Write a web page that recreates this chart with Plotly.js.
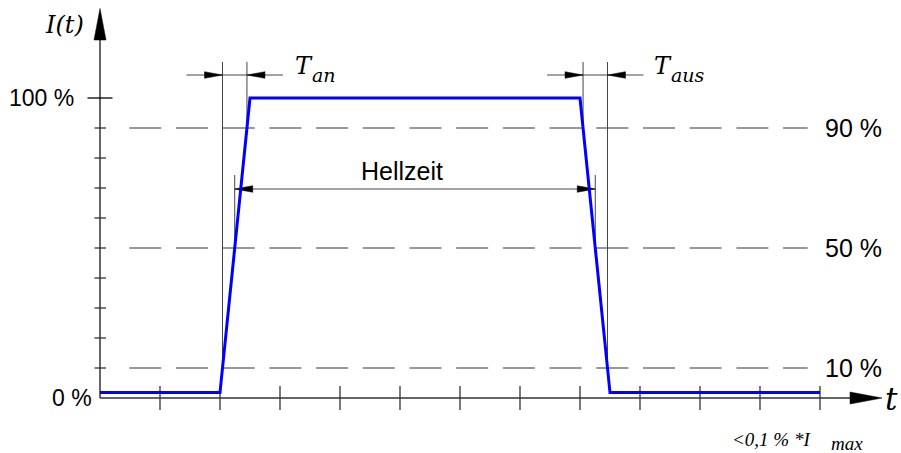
<!DOCTYPE html>
<html><head><meta charset="utf-8">
<script src="https://cdn.plot.ly/plotly-3.0.1.min.js"></script>
<style>html,body{margin:0;padding:0;background:#fff}</style>
</head><body><div id="chart" style="width:901px;height:453px"></div>
<script>
// ---- data ----
const timeT = [0, 2.0, 2.5, 8.0, 8.5, 12];
const intensity = [1.8, 1.8, 100, 100, 1.8, 1.8];
const xTicks = [1, 2, 3, 4, 5, 6, 7, 8, 9, 10, 11, 12];
const yTicks = [10, 20, 30, 40, 50, 60, 70, 80, 90];
const yMainTicks = [0, 100];
const yMainLabels = ['0 %', '100 %'];
const levelValues = [10, 50, 90];
const levelLabels = ['10 %', '50 %', '90 %'];
const riseSegment = [1, 2];
const fallSegment = [3, 4];
const switchLow = 10, switchHigh = 90, halfLevel = 50;
const onLabel = 'an', offLabel = 'aus', durationLabel = 'Hellzeit';
const yTitle = 'I(t)', xTitle = 't';
const noteMain = '<0,1 % *I', noteSub = 'max';

// ---- scales (px -> data) ----
const PXX = 1 / 60, PXY = 1 / 3;
const X0PX = 100, Y0PX = 398;
const px2x = p => (p - X0PX) * PXX;
const px2y = p => (Y0PX - p) * PXY;

function crossing(level, seg) {
  const [a, b] = seg;
  return timeT[a] + (level - intensity[a]) / (intensity[b] - intensity[a]) * (timeT[b] - timeT[a]);
}

const shapes = [];
const AX = '#333', DIM = '#444';
function line(x0, y0, x1, y1, color, width, dash) {
  shapes.push({type: 'line', xref: 'x', yref: 'y', x0, y0, x1, y1,
    line: {color, width, dash: dash || 'solid'}, layer: 'below'});
}
function tri(pts, color) {
  shapes.push({type: 'path', xref: 'x', yref: 'y',
    path: 'M' + pts.map(p => p[0] + ',' + p[1]).join('L') + 'Z',
    fillcolor: color, line: {color, width: 0.5}, layer: 'below'});
}
// horizontal arrowhead: tip at (x,y), direction +1 (pointing right) or -1
function hArrow(x, y, dir, len, half, color) {
  tri([[x, y], [x - dir * len * PXX, y + half * PXY], [x - dir * len * PXX, y - half * PXY]], color);
}

// axes
const xEnd = Math.max(...xTicks) + 0.5;
line(0, 0, xEnd, 0, AX, 1.5);
hArrow(xEnd + 32 * PXX, 0, 1, 32, 6, '#000');
const yEnd = px2y(40);
line(0, 0, 0, yEnd, AX, 1.5);
tri([[0, px2y(8.5)], [-6 * PXX, yEnd], [6 * PXX, yEnd]], '#000');

// ticks
xTicks.forEach(t => line(t, 12 * PXY, t, -12 * PXY, AX, 1.3));
yTicks.forEach(v => line(-5.5 * PXX, v, 6 * PXX, v, AX, 1.3));
line(-12.5 * PXX, yMainTicks[1], 12.5 * PXX, yMainTicks[1], '#000', 1.3);

// dashed reference levels
levelValues.forEach(v => line(px2x(129.3), v, px2x(807.7), v, '#333', 1.1, '32px,14.7px'));

// dimension: T_an and T_aus
const dimY = px2y(75), extTop = px2y(62);
function switchDim(tA, levA, tB, levB) {
  line(tA, levA, tA, extTop, DIM, 1);
  line(tB, levB, tB, extTop, DIM, 1);
  line(tA - 36 * PXX, dimY, tB + 36 * PXX, dimY, DIM, 1);
  hArrow(tA, dimY, 1, 18, 3.3, '#000');
  hArrow(tB, dimY, -1, 18, 3.3, '#000');
}
const onA = crossing(switchLow, riseSegment), onB = crossing(switchHigh, riseSegment);
const offA = crossing(switchHigh, fallSegment), offB = crossing(switchLow, fallSegment);
switchDim(onA, switchLow, onB, switchHigh);
switchDim(offA, switchHigh, offB, switchLow);

// dimension: Hellzeit
const hA = crossing(halfLevel, riseSegment), hB = crossing(halfLevel, fallSegment);
const hY = px2y(189), hTop = px2y(175);
line(hA, halfLevel, hA, hTop, DIM, 1);
line(hB, halfLevel, hB, hTop, DIM, 1);
line(hA, hY, hB, hY, DIM, 1);
hArrow(hA, hY, -1, 18, 3.3, '#000');
hArrow(hB, hY, 1, 18, 3.3, '#000');

// ---- annotations ----
const SANS = 'Liberation Sans, Arial, sans-serif';
const SERIF = 'DejaVu Serif, serif';
const TIMES = 'Liberation Serif, serif';
const ann = [];
function txt(o) {
  ann.push(Object.assign({xref: 'x', yref: 'y', showarrow: false, xanchor: 'center', yanchor: 'middle'}, o));
}
yMainTicks.forEach((v, i) => txt({x: 0, y: v, xanchor: 'right', xshift: i ? -24 : -6,
  text: yMainLabels[i], font: {family: SANS, size: 23, color: '#000'}}));
levelValues.forEach((v, i) => txt({x: px2x(823), y: v, xanchor: 'left',
  text: levelLabels[i], font: {family: SANS, size: 25, color: '#000'}}));
txt({x: (hA + hB) / 2, xshift: -13, y: px2y(171), text: durationLabel, font: {family: SANS, size: 25, color: '#000'}});
const SER_T = {family: SERIF, size: 24, color: '#000', style: 'italic'};
const SER_S = {family: SERIF, size: 19, color: '#000', style: 'italic'};
txt({x: onB + 46 * PXX, y: px2y(66), xanchor: 'left', text: 'T', font: SER_T});
txt({x: onB + 63 * PXX, y: px2y(75), xanchor: 'left', text: onLabel, font: SER_S});
txt({x: offB + 45 * PXX, y: px2y(66), xanchor: 'left', text: 'T', font: SER_T});
txt({x: offB + 62 * PXX, y: px2y(75), xanchor: 'left', text: offLabel, font: SER_S});
txt({x: 0, xshift: -36, y: px2y(25), text: yTitle, font: {family: SERIF, size: 24, color: '#000', style: 'italic'}});
txt({x: xEnd, xshift: 41, y: 0, yshift: -1, text: xTitle, font: {family: SERIF, size: 31, color: '#000', style: 'italic'}});
txt({x: Math.max(...xTicks), y: 0, xanchor: 'right', xshift: -7, yshift: -41, text: noteMain,
  font: {family: TIMES, size: 19, color: '#000', style: 'italic'}});
txt({x: Math.max(...xTicks), y: 0, xanchor: 'left', xshift: 9, yshift: -45, text: noteSub,
  font: {family: TIMES, size: 19, color: '#000', style: 'italic'}});

const data = [{
  type: 'scatter', mode: 'lines', x: timeT, y: intensity,
  line: {color: '#0000ff', width: 3}, hoverinfo: 'skip', cliponaxis: false
}];
const layout = {
  width: 901, height: 453,
  margin: {l: 80, r: 11, t: 5, b: 33, pad: 0},
  paper_bgcolor: '#fff', plot_bgcolor: '#fff',
  showlegend: false,
  xaxis: {range: [px2x(80), px2x(890)], visible: false, fixedrange: true},
  yaxis: {range: [px2y(420), px2y(5)], visible: false, fixedrange: true},
  shapes, annotations: ann
};
Plotly.newPlot('chart', data, layout, {displayModeBar: false, staticPlot: true});
</script></body></html>
